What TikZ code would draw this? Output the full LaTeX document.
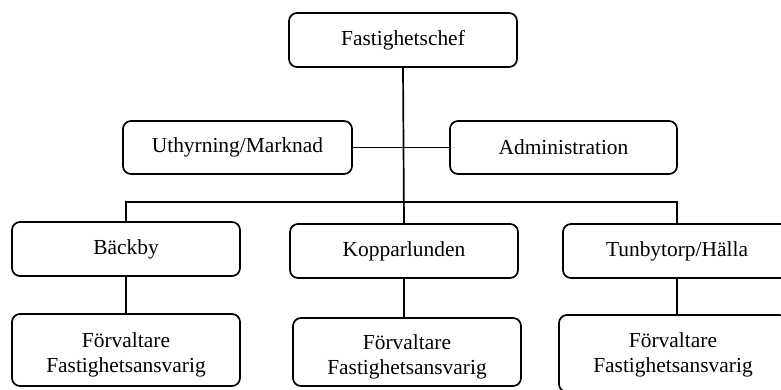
\documentclass[tikz,border=0pt]{standalone}
\usepackage{fontspec}
\setmainfont{Liberation Serif}
\begin{document}
\begin{tikzpicture}[x=1bp,y=-1bp,
  txt/.style={align=center,inner sep=0pt,font=\fontsize{21.5}{25}\selectfont},
  box/.style={draw,line width=1.7bp,rounded corners=8bp,minimum width=228bp,minimum height=54bp,txt},
  conn/.style={line width=1.7bp}]
\useasboundingbox (0,0) rectangle (781,389);
\node[box] (chef) at (403,40) {Fastighetschef};
\node[box,minimum width=229bp,minimum height=53bp] (uthyr) at (237.5,147.5) {Uthyrning/Marknad};
\node[box,minimum width=227bp,minimum height=53bp] (admin) at (563.5,147.5) {Administration};
\node[box] (backby) at (126,249) {Bäckby};
\node[box] (koppar) at (404,251) {Kopparlunden};
\node[box] (tunby) at (677,251) {Tunbytorp/Hälla};
\node[box,minimum height=72bp] (f1) at (126,350) {};
\node[box,minimum height=68bp] (f2) at (407,352) {};
\node[box,minimum height=77bp] (f3) at (673,353.5) {};
\node[txt] (f1t) at (126,355) {Förvaltare\\Fastighetsansvarig};
\node[txt] (f2t) at (407,357) {Förvaltare\\Fastighetsansvarig};
\node[txt] (f3t) at (673,355) {Förvaltare\\Fastighetsansvarig};
\coordinate (bar) at (403,202);
\draw[conn] (chef.south) -- (koppar.north);
\draw[conn] (uthyr.east) -- (admin.west);
\draw[conn] (backby.north) |- (bar) -| (tunby.north);
\draw[conn] (backby.south) -- (f1.north);
\draw[conn] (koppar.south) -- (koppar.south |- f2.north);
\draw[conn] (tunby.south) -- (tunby.south |- f3.north);
\end{tikzpicture}
\end{document}
